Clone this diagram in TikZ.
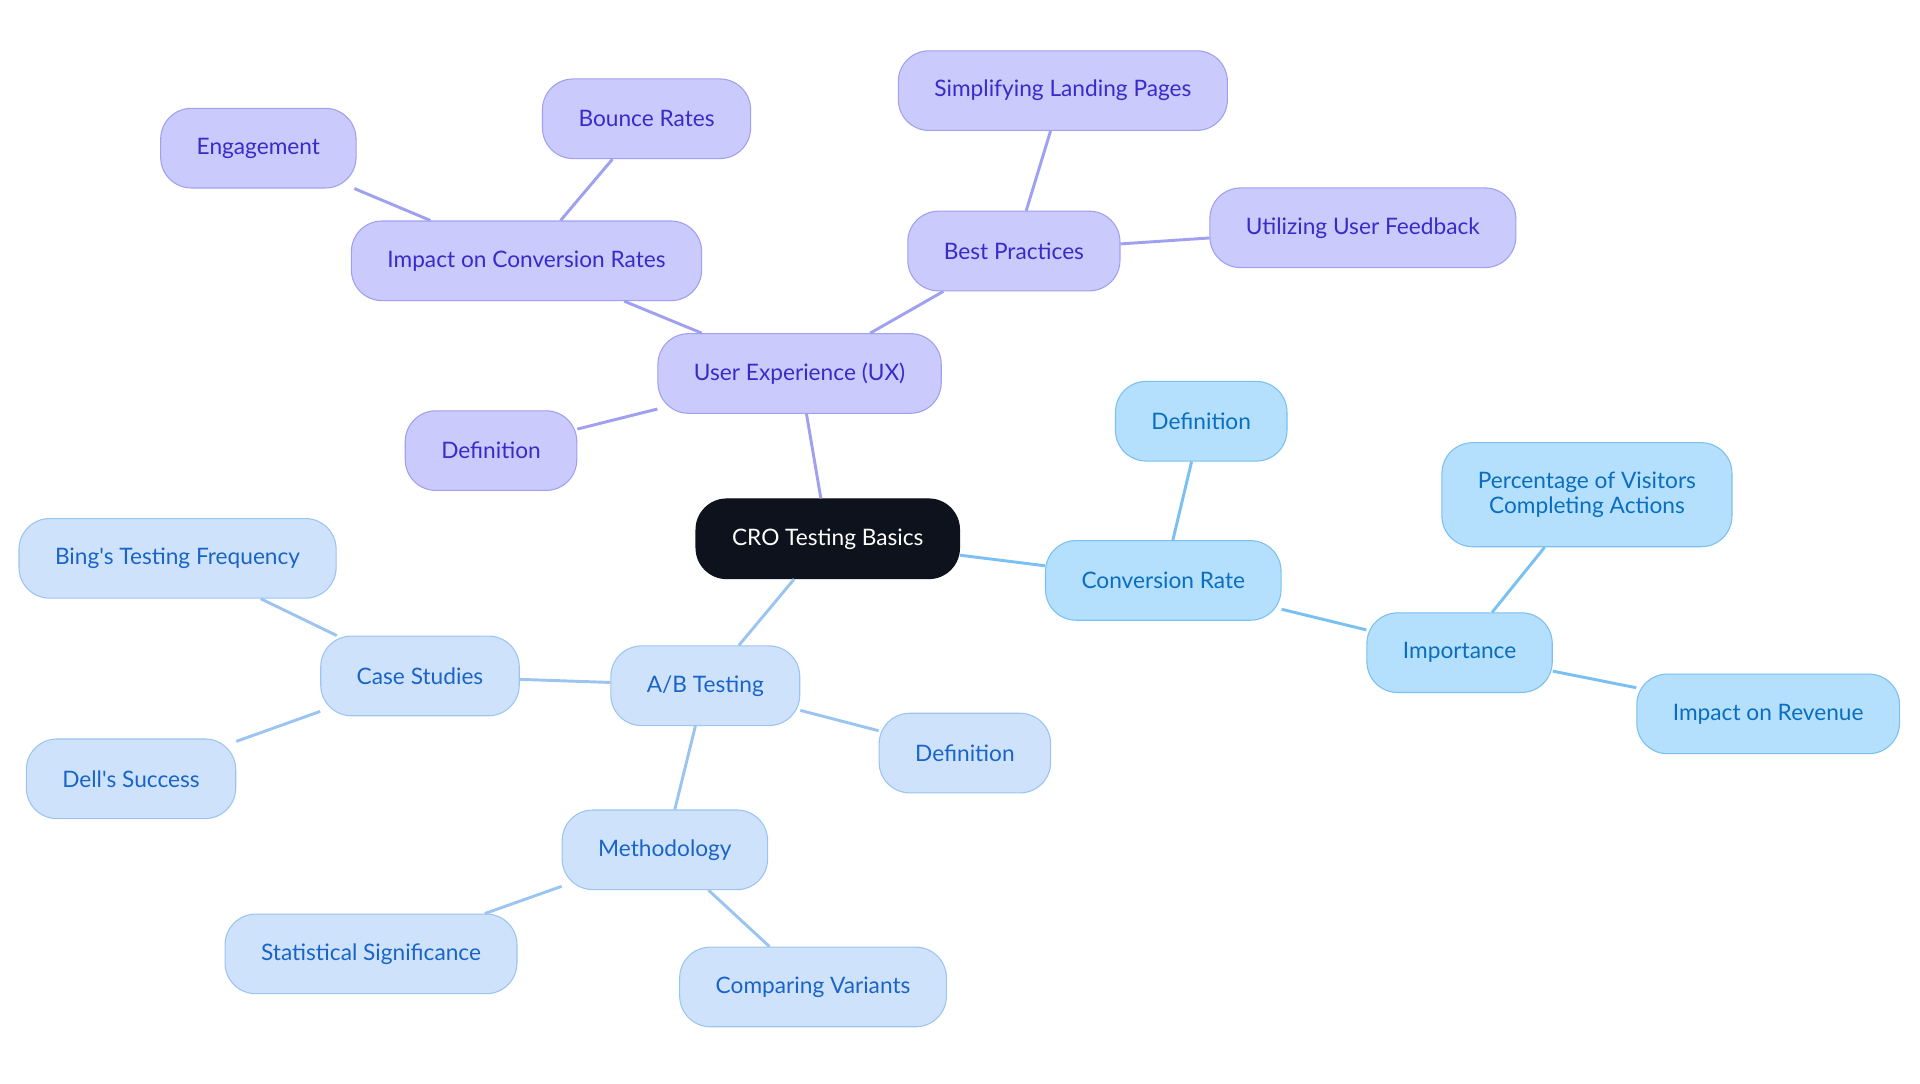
\documentclass[tikz,border=0pt]{standalone}
\usepackage{fontspec}
\newfontfamily\mindfont{Lato}
\usetikzlibrary{shapes.geometric, arrows}
\definecolor{rootfill}{RGB}{13,18,28}
\definecolor{uxfill}{RGB}{202,202,252}
\definecolor{uxline}{RGB}{160,160,240}
\definecolor{uxtext}{RGB}{56,44,200}
\definecolor{crfill}{RGB}{180,224,253}
\definecolor{crline}{RGB}{122,192,240}
\definecolor{crtext}{RGB}{10,110,192}
\definecolor{abfill}{RGB}{206,227,251}
\definecolor{abline}{RGB}{156,196,240}
\definecolor{abtext}{RGB}{26,100,200}

\begin{document}
\begin{tikzpicture}[x=0.918pt,y=0.918pt,yscale=-1,xscale=1,
  mind/.style={draw, rounded corners=23pt, minimum height=59.7pt, inner xsep=27pt, line width=0.8pt, font=\mindfont\fontsize{17}{19}\selectfont, align=center},
  root/.style={mind, fill=rootfill, draw=rootfill, text=white},
  uxnode/.style={mind, fill=uxfill, draw=uxline, text=uxtext},
  crnode/.style={mind, fill=crfill, draw=crline, text=crtext},
  abnode/.style={mind, fill=abfill, draw=abline, text=abtext},
  uxlink/.style={draw=uxline, line width=2.2pt},
  crlink/.style={draw=crline, line width=2.2pt},
  ablink/.style={draw=abline, line width=2.2pt}]
\useasboundingbox (0,0) rectangle (1568,884.5);

% Root
\node [root] (cro) at (676,440) {CRO Testing Basics};

% User Experience branch
\node [uxnode] (ux) at (653,305) {User Experience (UX)};
\node [uxnode] (impact) at (430,213) {Impact on Conversion Rates};
\node [uxnode] (engage) at (211,121) {Engagement};
\node [uxnode] (bounce) at (528,97) {Bounce Rates};
\node [uxnode] (best) at (828,205) {Best Practices};
\node [uxnode] (landing) at (868,74) {Simplifying Landing Pages};
\node [uxnode] (feedback) at (1113,186) {Utilizing User Feedback};
\node [uxnode] (uxdef) at (401,368) {Definition};

% Conversion Rate branch
\node [crnode] (rate) at (950,474) {Conversion Rate};
\node [crnode] (ratedef) at (981,344) {Definition};
\node [crnode] (importance) at (1192,533) {Importance};
\node [crnode, minimum height=78pt] (percent) at (1296,404) {Percentage of Visitors\\Completing Actions};
\node [crnode] (revenue) at (1444,583) {Impact on Revenue};

% A/B Testing branch
\node [abnode] (ab) at (576,560) {A/B Testing};
\node [abnode] (cases) at (343,552) {Case Studies};
\node [abnode] (bing) at (145,456) {Bing's Testing Frequency};
\node [abnode] (dell) at (107,636) {Dell's Success};
\node [abnode] (abdef) at (788,615) {Definition};
\node [abnode] (method) at (543,694) {Methodology};
\node [abnode] (stats) at (303,779) {Statistical Significance};
\node [abnode] (variants) at (664,806) {Comparing Variants};

% Links
\draw [uxlink] (cro) -- (ux);
\draw [uxlink] (ux) -- (impact);
\draw [uxlink] (impact) -- (engage);
\draw [uxlink] (impact) -- (bounce);
\draw [uxlink] (ux) -- (best);
\draw [uxlink] (best) -- (landing);
\draw [uxlink] (best) -- (feedback);
\draw [uxlink] (ux) -- (uxdef);

\draw [crlink] (cro) -- (rate);
\draw [crlink] (rate) -- (ratedef);
\draw [crlink] (rate) -- (importance);
\draw [crlink] (importance) -- (percent);
\draw [crlink] (importance) -- (revenue);

\draw [ablink] (cro) -- (ab);
\draw [ablink] (ab) -- (cases);
\draw [ablink] (cases) -- (bing);
\draw [ablink] (cases) -- (dell);
\draw [ablink] (ab) -- (abdef);
\draw [ablink] (ab) -- (method);
\draw [ablink] (method) -- (stats);
\draw [ablink] (method) -- (variants);

\end{tikzpicture}
\end{document}
